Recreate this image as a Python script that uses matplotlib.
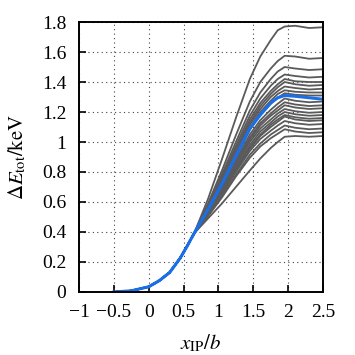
import numpy as np
import matplotlib
matplotlib.use("Agg")
import matplotlib.pyplot as plt

plt.rcParams['font.family'] = 'serif'
plt.rcParams['font.serif'] = ['Liberation Serif', 'DejaVu Serif']
plt.rcParams['mathtext.fontset'] = 'stix'

# common start (all runs identical up to x ~ 0.65)
x_start = [-0.5, -0.25, 0.0, 0.15, 0.3, 0.45, 0.55]
y_start = [0.0, 0.008, 0.035, 0.075, 0.13, 0.225, 0.305]

# sample points after the branching
x_fan = [0.65, 0.85, 1.05, 1.25, 1.45, 1.6, 1.75, 1.85, 1.95, 2.1, 2.3, 2.5]

gray_runs = [
    [0.39, 0.62, 0.885, 1.16, 1.42, 1.57, 1.68, 1.745, 1.77, 1.775, 1.76, 1.765],
    [0.39, 0.59, 0.81, 1.045, 1.27, 1.40, 1.49, 1.54, 1.575, 1.57, 1.555, 1.56],
    [0.39, 0.575, 0.785, 1.0, 1.21, 1.33, 1.42, 1.47, 1.50, 1.49, 1.48, 1.485],
    [0.39, 0.57, 0.77, 0.975, 1.175, 1.29, 1.375, 1.42, 1.45, 1.44, 1.43, 1.435],
    [0.39, 0.56, 0.755, 0.955, 1.15, 1.26, 1.34, 1.385, 1.42, 1.405, 1.40, 1.40],
    [0.39, 0.56, 0.75, 0.945, 1.13, 1.24, 1.32, 1.365, 1.40, 1.385, 1.375, 1.38],
    [0.39, 0.555, 0.74, 0.93, 1.115, 1.22, 1.30, 1.34, 1.37, 1.36, 1.35, 1.355],
    [0.39, 0.55, 0.73, 0.915, 1.095, 1.20, 1.275, 1.32, 1.345, 1.335, 1.33, 1.33],
    [0.39, 0.545, 0.72, 0.905, 1.08, 1.18, 1.255, 1.295, 1.325, 1.315, 1.31, 1.31],
    [0.39, 0.54, 0.705, 0.88, 1.05, 1.145, 1.215, 1.255, 1.29, 1.275, 1.265, 1.27],
    [0.39, 0.535, 0.70, 0.87, 1.03, 1.125, 1.19, 1.23, 1.265, 1.25, 1.24, 1.245],
    [0.39, 0.53, 0.69, 0.86, 1.015, 1.11, 1.175, 1.21, 1.245, 1.23, 1.22, 1.225],
    [0.39, 0.53, 0.68, 0.845, 1.0, 1.09, 1.15, 1.19, 1.22, 1.205, 1.195, 1.20],
    [0.39, 0.525, 0.675, 0.83, 0.98, 1.07, 1.13, 1.17, 1.20, 1.185, 1.175, 1.18],
    [0.39, 0.52, 0.67, 0.82, 0.965, 1.05, 1.115, 1.15, 1.18, 1.165, 1.155, 1.16],
    [0.39, 0.52, 0.66, 0.81, 0.955, 1.04, 1.10, 1.135, 1.17, 1.15, 1.14, 1.145],
    [0.39, 0.515, 0.655, 0.80, 0.94, 1.02, 1.075, 1.11, 1.14, 1.125, 1.115, 1.12],
    [0.39, 0.51, 0.64, 0.78, 0.915, 0.99, 1.05, 1.08, 1.11, 1.095, 1.085, 1.09],
    [0.39, 0.505, 0.63, 0.77, 0.895, 0.97, 1.025, 1.055, 1.085, 1.07, 1.06, 1.065],
    [0.39, 0.49, 0.59, 0.70, 0.81, 0.89, 0.96, 1.0, 1.035, 1.04, 1.035, 1.04],
]

blue_fan = [0.39, 0.55, 0.72, 0.905, 1.09, 1.18, 1.26, 1.295, 1.31, 1.305, 1.295, 1.285]

fig = plt.figure(figsize=(3.55, 3.55), dpi=100)
ax = fig.add_axes([0.2225, 0.1775, 0.6875, 0.7605])

for run in gray_runs:
    ax.plot(x_start + x_fan, y_start + run, color='#5a5a5a', lw=1.3)
ax.plot(x_start + x_fan, y_start + blue_fan, color='#1a6fe8', lw=2.2)

ax.set_xlim(-1, 2.5)
ax.set_ylim(0, 1.8)
ax.set_xticks([-1, -0.5, 0, 0.5, 1, 1.5, 2, 2.5])
ax.set_xticklabels(['\u22121', '\u22120.5', '0', '0.5', '1', '1.5', '2', '2.5'])
ax.set_yticks(np.arange(0, 1.81, 0.2))
ax.set_yticklabels(['0', '0.2', '0.4', '0.6', '0.8', '1', '1.2', '1.4', '1.6', '1.8'])
ax.tick_params(direction='in', length=5, width=1.2, labelsize=14, pad=9,
               top=False, right=False)
ax.grid(True, linestyle=(0, (1, 3)), color='#444444', lw=0.8)
for s in ax.spines.values():
    s.set_linewidth(1.4)

ax.set_xlabel(r'$x_{\mathrm{IP}}/b$', fontsize=15, labelpad=8)
ax.set_ylabel(r'$\Delta E_{\mathrm{tot}}/\mathrm{keV}$', fontsize=15, labelpad=10)

fig.savefig('out.png', dpi=100)
